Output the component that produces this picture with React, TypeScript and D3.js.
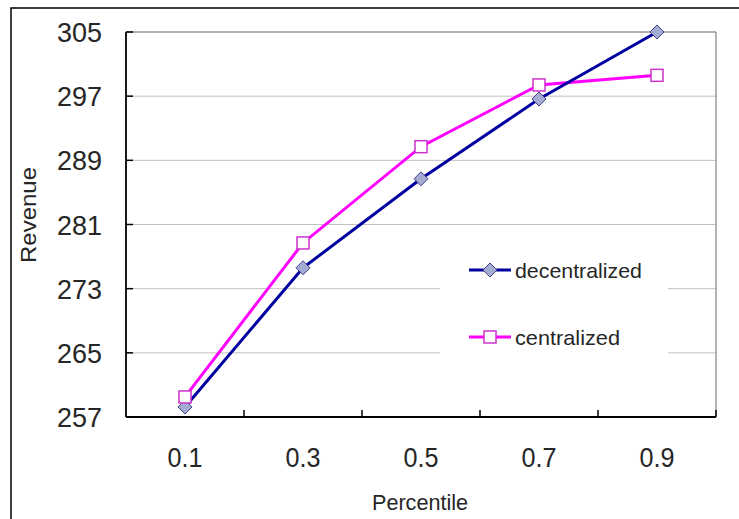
import React from 'react';
import * as d3 from 'd3';

const categories = ['0.1', '0.3', '0.5', '0.7', '0.9'];
const decentralized = [258.25, 275.6, 286.7, 296.65, 305];
const centralized = [259.5, 278.7, 290.7, 298.4, 299.6];
const yTicks = [257, 265, 273, 281, 289, 297, 305];

const W = 739;
const H = 519;
const plot = { left: 126, top: 32, right: 716, bottom: 417 };
const FONT = '"Liberation Sans", Arial, sans-serif';
const TEXT = '#262626';

export default function App() {
    const x = d3.scaleBand<string>()
        .domain(categories)
        .range([plot.left, plot.right])
        .padding(0);
    const cx = (c: string) => (x(c) as number) + x.bandwidth() / 2;
    const y = d3.scaleLinear()
        .domain([257, 305])
        .range([plot.bottom, plot.top]);

    const line = d3.line<number>()
        .x((_, i) => cx(categories[i]))
        .y(d => y(d));

    // tick marks sit on the category boundaries
    const xTickPos = categories.map(c => (x(c) as number) + x.bandwidth());

    const diamond = (px: number, py: number, r: number) =>
        `M${px},${py - r}L${px + r},${py}L${px},${py + r}L${px - r},${py}Z`;

    return (
        <svg width={W} height={H} style={{ position: 'absolute', left: 0, top: 0, background: '#fff' }}>
            {/* outer frame */}
            <rect x={11} y={8} width={W + 20} height={H + 20} fill="#fff" stroke="#000" strokeWidth={1.5} />

            {/* grid */}
            {yTicks.map(t => (
                <line key={t} x1={plot.left} x2={plot.right} y1={y(t)} y2={y(t)} stroke="#c0c0c0" strokeWidth={1} />
            ))}
            {/* plot border top & right */}
            <line x1={plot.left} x2={plot.right} y1={plot.top} y2={plot.top} stroke="#808080" strokeWidth={1.2} />
            <line x1={plot.right} x2={plot.right} y1={plot.top} y2={plot.bottom} stroke="#808080" strokeWidth={1.2} />

            {/* axes */}
            <line x1={plot.left} x2={plot.left} y1={plot.top} y2={plot.bottom} stroke="#000" strokeWidth={1.8} />
            <line x1={plot.left} x2={plot.right} y1={plot.bottom} y2={plot.bottom} stroke="#000" strokeWidth={1.8} />
            {yTicks.map(t => (
                <line key={'yt' + t} x1={plot.left} x2={plot.left + 7} y1={y(t)} y2={y(t)} stroke="#000" strokeWidth={1.5} />
            ))}
            {xTickPos.map((p, i) => (
                <line key={'xt' + i} x1={p} x2={p} y1={plot.bottom} y2={plot.bottom - 7} stroke="#000" strokeWidth={1.5} />
            ))}

            {/* y tick labels */}
            {yTicks.map(t => (
                <text key={'yl' + t} x={102} y={y(t) + 10} textAnchor="end" fontFamily={FONT} fontSize={28}
                    textLength={45} lengthAdjust="spacingAndGlyphs" fill={TEXT}>
                    {t}
                </text>
            ))}
            {/* x tick labels */}
            {categories.map(c => (
                <text key={'xl' + c} x={cx(c)} y={467} textAnchor="middle" fontFamily={FONT} fontSize={28}
                    textLength={35} lengthAdjust="spacingAndGlyphs" fill={TEXT}>
                    {c}
                </text>
            ))}

            {/* axis titles */}
            <text x={420} y={510} textAnchor="middle" fontFamily={FONT} fontSize={22} fill={TEXT}
                textLength={96} lengthAdjust="spacingAndGlyphs">Percentile</text>
            <text transform="translate(36,215) rotate(-90)" textAnchor="middle" fontFamily={FONT} fontSize={22} fill={TEXT}
                textLength={96} lengthAdjust="spacingAndGlyphs">Revenue</text>

            {/* legend background */}
            <rect x={440} y={236} width={228} height={132} fill="#fff" />

            {/* series lines */}
            <path d={line(centralized) as string} fill="none" stroke="#ff00ff" strokeWidth={3} />
            <path d={line(decentralized) as string} fill="none" stroke="#0000a0" strokeWidth={3} />

            {/* markers */}
            {decentralized.map((v, i) => (
                <path key={'dm' + i} d={diamond(cx(categories[i]), y(v), 7)} fill="#a4acd4" stroke="#404088" strokeWidth={1} />
            ))}
            {centralized.map((v, i) => (
                <rect key={'cm' + i} x={cx(categories[i]) - 6} y={y(v) - 6} width={12} height={12} fill="#fff" stroke="#cc33cc" strokeWidth={1.5} />
            ))}

            {/* legend */}
            <line x1={469} x2={511} y1={270} y2={270} stroke="#0000a0" strokeWidth={3} />
            <path d={diamond(490, 270, 7)} fill="#a4acd4" stroke="#404088" strokeWidth={1} />
            <text x={515} y={278} fontFamily={FONT} fontSize={21} fill={TEXT}
                textLength={127} lengthAdjust="spacingAndGlyphs">decentralized</text>

            <line x1={469} x2={511} y1={337} y2={337} stroke="#ff00ff" strokeWidth={3} />
            <rect x={484} y={331} width={12} height={12} fill="#fff" stroke="#cc33cc" strokeWidth={1.5} />
            <text x={515} y={345} fontFamily={FONT} fontSize={21} fill={TEXT}
                textLength={105} lengthAdjust="spacingAndGlyphs">centralized</text>
        </svg>
    );
}
